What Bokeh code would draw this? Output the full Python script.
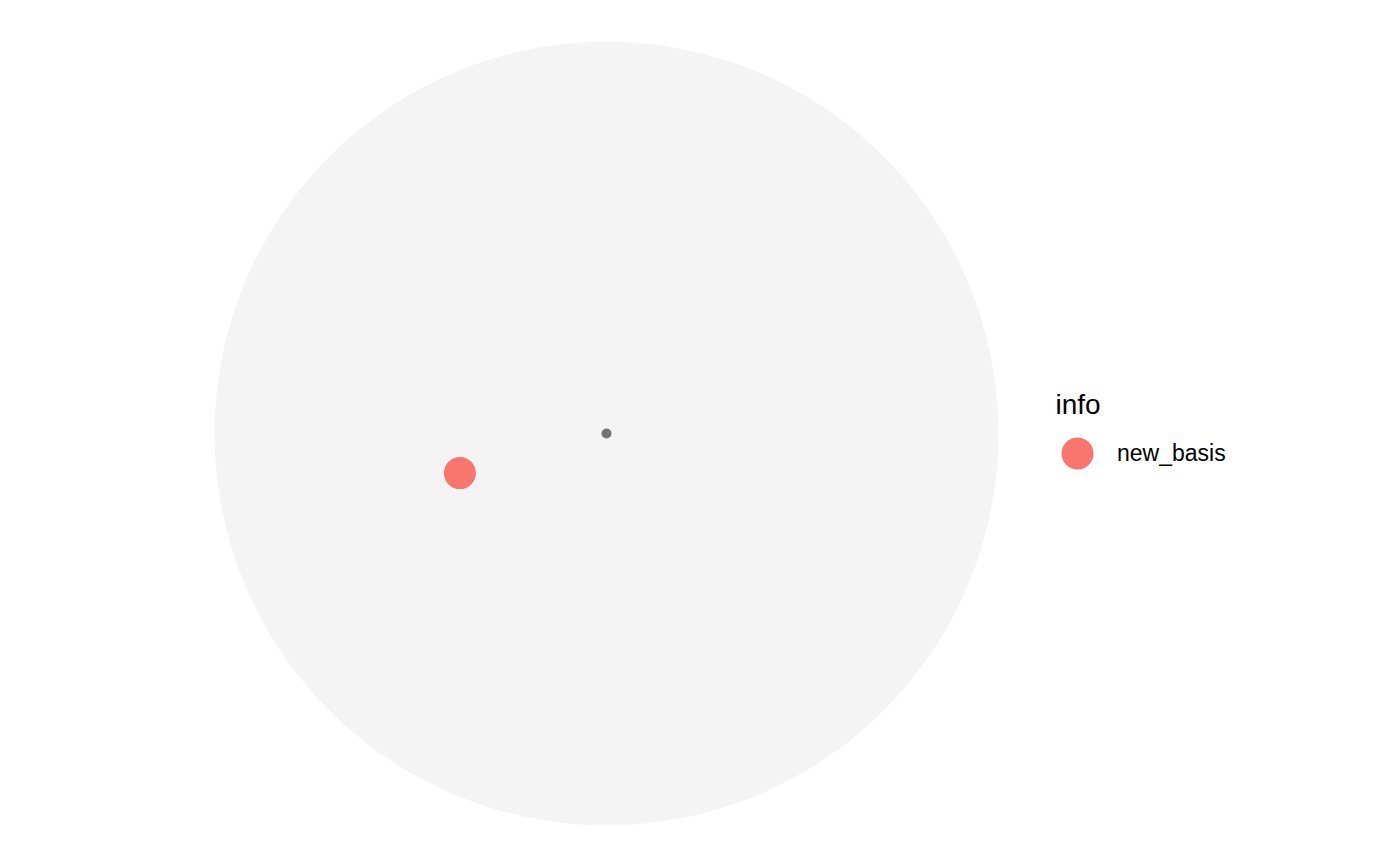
from bokeh.plotting import figure
from bokeh.models import ColumnDataSource, Legend, LegendItem, Label, Range1d
from bokeh.embed import file_html
from bokeh.resources import INLINE

# Data
circle_x = [0.0]
circle_y = [0.0]
circle_r = [1.0]

origin_x = [0.0]
origin_y = [0.0]

basis_x = [-0.374]
basis_y = [-0.101]
basis_info = ["new_basis"]

W, H = 1400, 866
scale = 392.0  # px per data unit
cx, cy = 606.0, 433.0

p = figure(width=W, height=H, output_backend="svg", toolbar_location=None,
           min_border=0, min_border_left=0, min_border_right=0,
           min_border_top=0, min_border_bottom=0,
           x_range=Range1d(-cx / scale, (W - cx) / scale),
           y_range=Range1d(-(H - cy) / scale, cy / scale))
p.xaxis.visible = False
p.yaxis.visible = False
p.grid.visible = False
p.outline_line_color = None
p.background_fill_color = "white"
p.border_fill_color = "white"

p.circle(x=circle_x, y=circle_y, radius=circle_r, fill_color="#F4F4F4",
         line_color=None)
p.scatter(x=origin_x, y=origin_y, size=10, fill_color="#737373", line_color=None)

src = ColumnDataSource(dict(x=basis_x, y=basis_y, info=basis_info))
r = p.scatter(x="x", y="y", source=src, size=32, fill_color="#F8766D",
              line_color=None)

legend = Legend(items=[LegendItem(label=basis_info[0], renderers=[r])],
                location=(1037, H - 493), orientation="vertical",
                glyph_width=80, glyph_height=80, label_standoff=0,
                padding=0, margin=0, spacing=0,
                label_text_font="Liberation Sans", label_text_font_size="23px",
                label_text_color="black",
                border_line_color=None, background_fill_alpha=0)
p.add_layout(legend)

title = Label(x=1055, y=H - 404, x_units="screen", y_units="screen", text="info",
              text_font="Liberation Sans", text_font_size="28px",
              text_color="black", text_baseline="alphabetic")
p.add_layout(title)

open("out.html", "w").write(file_html(p, INLINE))
